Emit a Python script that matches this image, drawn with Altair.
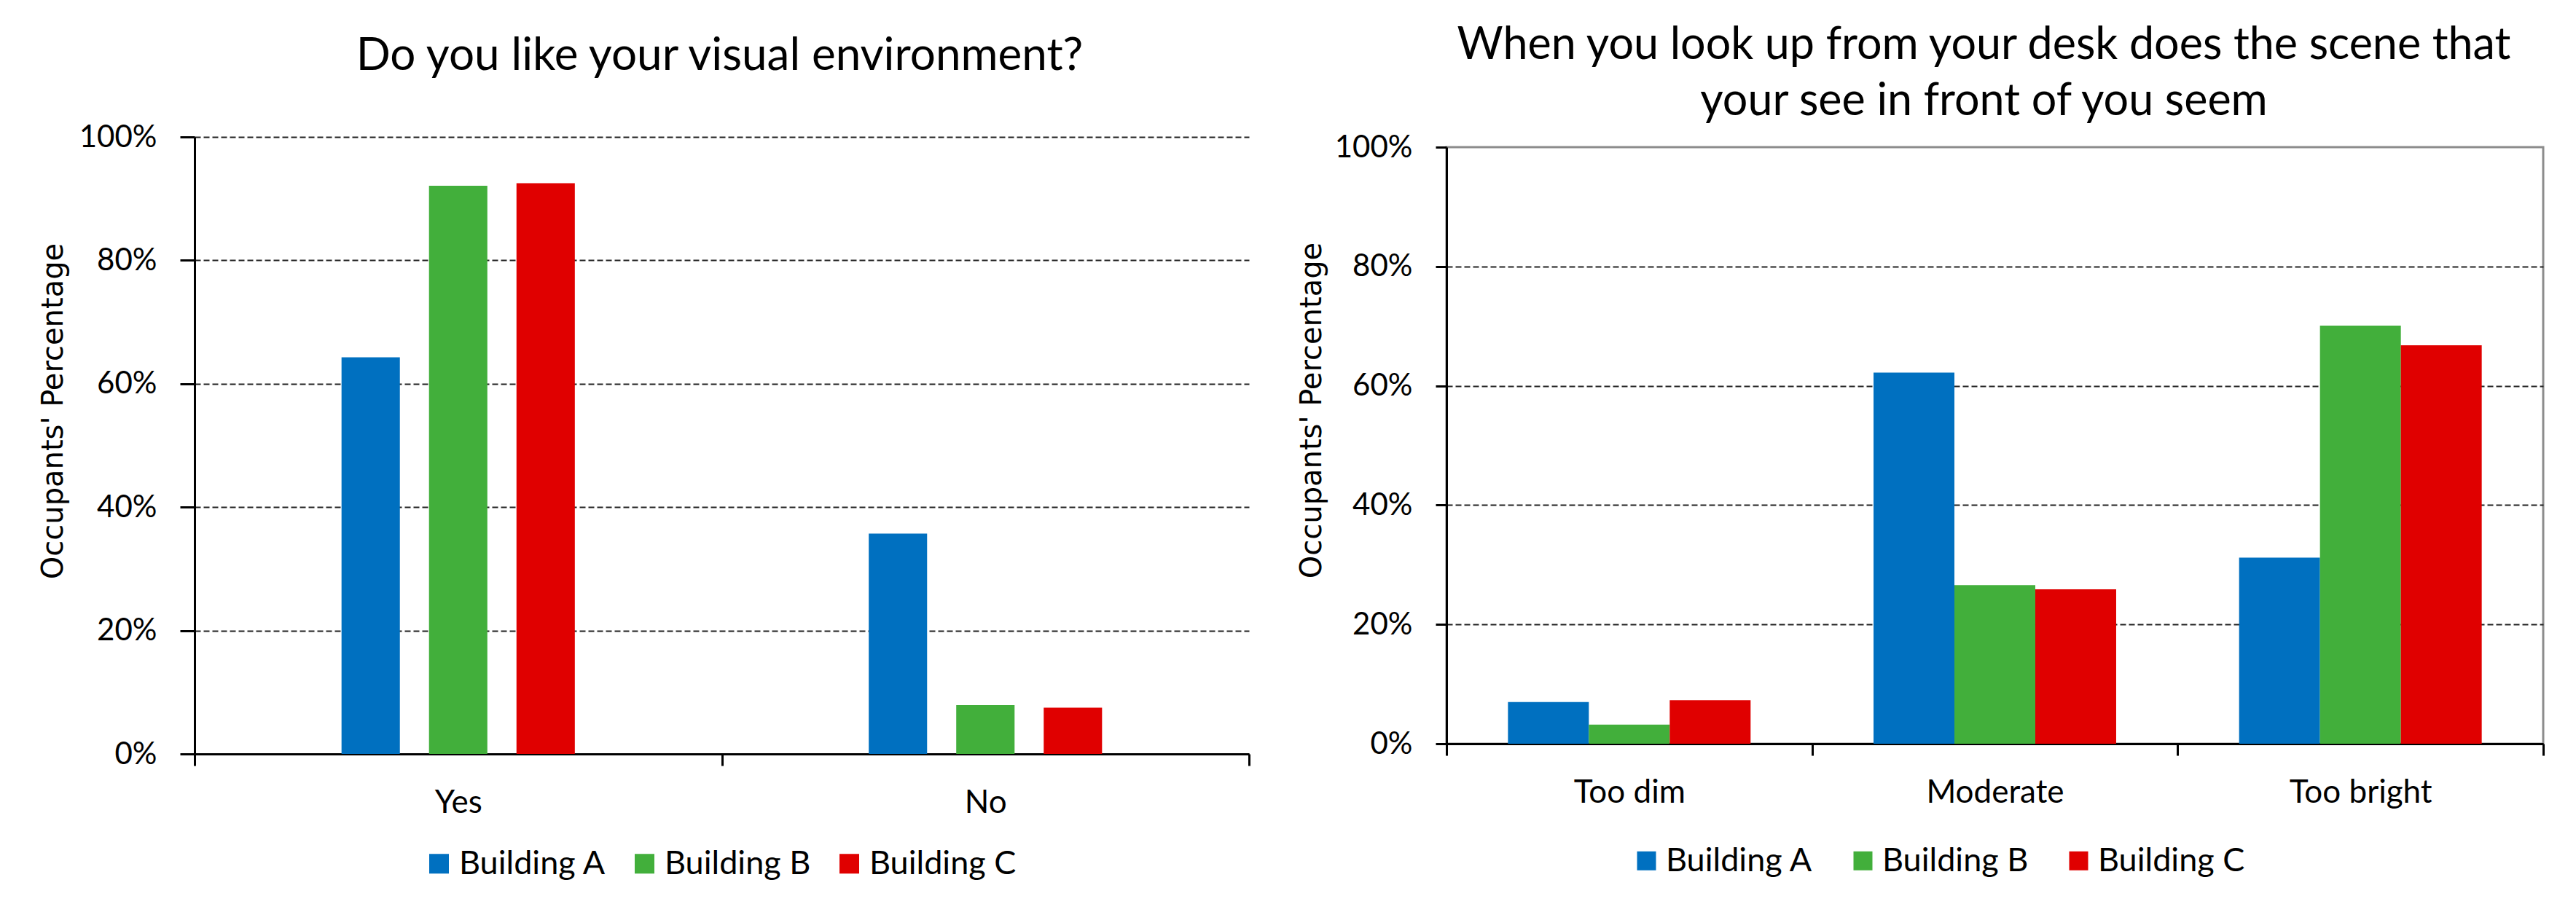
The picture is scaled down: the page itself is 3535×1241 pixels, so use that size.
import altair as alt
import pandas as pd

FONT = "Lato"
TITLE_Y_FONT = "DejaVu Sans"

buildings = ["Building A", "Building B", "Building C"]
colors = ["#0070C0", "#42AF3B", "#E00000"]

q1_title = "Do you like your visual environment?"
q1_categories = ["Yes", "No"]
q1_building_a = [0.643, 0.357]
q1_building_b = [0.921, 0.079]
q1_building_c = [0.925, 0.075]

q2_title = ["When you look up from your desk does the scene that",
            "your see in front of you seem"]
q2_categories = ["Too dim", "Moderate", "Too bright"]
q2_building_a = [0.070, 0.622, 0.312]
q2_building_b = [0.032, 0.266, 0.701]
q2_building_c = [0.073, 0.259, 0.668]

y_title = "Occupants' Percentage"
y_ticks = [0, 0.2, 0.4, 0.6, 0.8, 1.0]


def long_df(categories, series):
    rows = []
    for b, vals in zip(buildings, series):
        for c, v in zip(categories, vals):
            rows.append({"category": c, "building": b, "value": v})
    return pd.DataFrame(rows)


df1 = long_df(q1_categories, [q1_building_a, q1_building_b, q1_building_c])
df2 = long_df(q2_categories, [q2_building_a, q2_building_b, q2_building_c])


def make_chart(df, cats, title, title_size, title_offset, title_dx, width, height,
               ytick_size, ytitle_x, ytitle_y, off_domain, off_inner, off_outer,
               legend_x, legend_y, legend_colpad, legend_offset, legend_sym,
               grid_opacity, view):
    return alt.Chart(df).mark_bar().encode(
        x=alt.X("category:N", sort=cats,
                scale=alt.Scale(paddingInner=0, paddingOuter=0),
                axis=alt.Axis(title=None, labelAngle=0, tickBand="extent",
                              tickSize=16, tickWidth=3, tickColor="black",
                              domainColor="black", domainWidth=3,
                              labelFont=FONT, labelFontSize=44,
                              labelColor="black", labelPadding=29,
                              labelLimit=2000, grid=False)),
        xOffset=alt.XOffset("building:N",
                            scale=alt.Scale(domain=off_domain,
                                            paddingInner=off_inner,
                                            paddingOuter=off_outer)),
        y=alt.Y("value:Q", scale=alt.Scale(domain=[0, 1], nice=False),
                axis=alt.Axis(values=y_ticks, format=".0%", title=y_title,
                              grid=True, gridColor="#222222",
                              gridDash=[8, 4], gridWidth=2,
                              gridOpacity=grid_opacity,
                              domainColor="black", domainWidth=3,
                              tickSize=ytick_size, tickWidth=3,
                              tickColor="black",
                              labelFont=FONT, labelFontSize=42,
                              labelColor="black", labelPadding=32,
                              labelLimit=2000,
                              titleFont=TITLE_Y_FONT, titleFontSize=40,
                              titleFontWeight="normal", titleColor="black",
                              titleAngle=270, titleAlign="center",
                              titleBaseline="middle", titleLimit=3000,
                              titleX=ytitle_x, titleY=ytitle_y)),
        color=alt.Color("building:N", sort=buildings,
                        scale=alt.Scale(domain=buildings, range=colors),
                        legend=alt.Legend(title=None, orient="none",
                                          legendX=legend_x, legendY=legend_y,
                                          direction="horizontal",
                                          symbolType="square",
                                          symbolSize=legend_sym,
                                          symbolStrokeWidth=0,
                                          labelFont=FONT, labelFontSize=45,
                                          labelColor="black",
                                          labelLimit=2000,
                                          labelOffset=legend_offset,
                                          columnPadding=legend_colpad,
                                          padding=0)),
    ).properties(
        width=width, height=height, view=view,
        title=alt.TitleParams(text=title, font=FONT, fontSize=title_size,
                              fontWeight="normal", color="black",
                              anchor="middle", frame="group",
                              baseline="alphabetic", offset=title_offset,
                              lineHeight=77, dx=title_dx),
    )


# spacer slots on each side of the left chart's bar groups
left_slots = ["pad-left"] + buildings + ["pad-right"]

left = make_chart(
    df1, q1_categories, q1_title, 62, 9, -3, 1447, 847,
    20, -194, 376, left_slots, 0.333, 0.68,
    313, 975, 30, 5, 729,
    1, alt.ViewBackground(strokeOpacity=0))

right = make_chart(
    df2, q2_categories, q2_title, 61, -38, -15, 1505, 819,
    15, -185, 361, buildings, 0, 0.76,
    252, 957, 46, 4, 676,
    {"condition": {"test": "datum.value >= 0.999", "value": 0}, "value": 1},
    alt.ViewBackground(stroke="#8c8c8c", strokeWidth=3))

chart = alt.hconcat(left, right, spacing=271, bounds="flush", center=True
                    ).resolve_legend(color="independent"
                    ).resolve_scale(xOffset="independent").properties(
    padding={"left": 45, "top": 22, "right": 5, "bottom": 5},
    background="white")

chart.save("out.html", embed_options={"renderer": "svg", "actions": False})
